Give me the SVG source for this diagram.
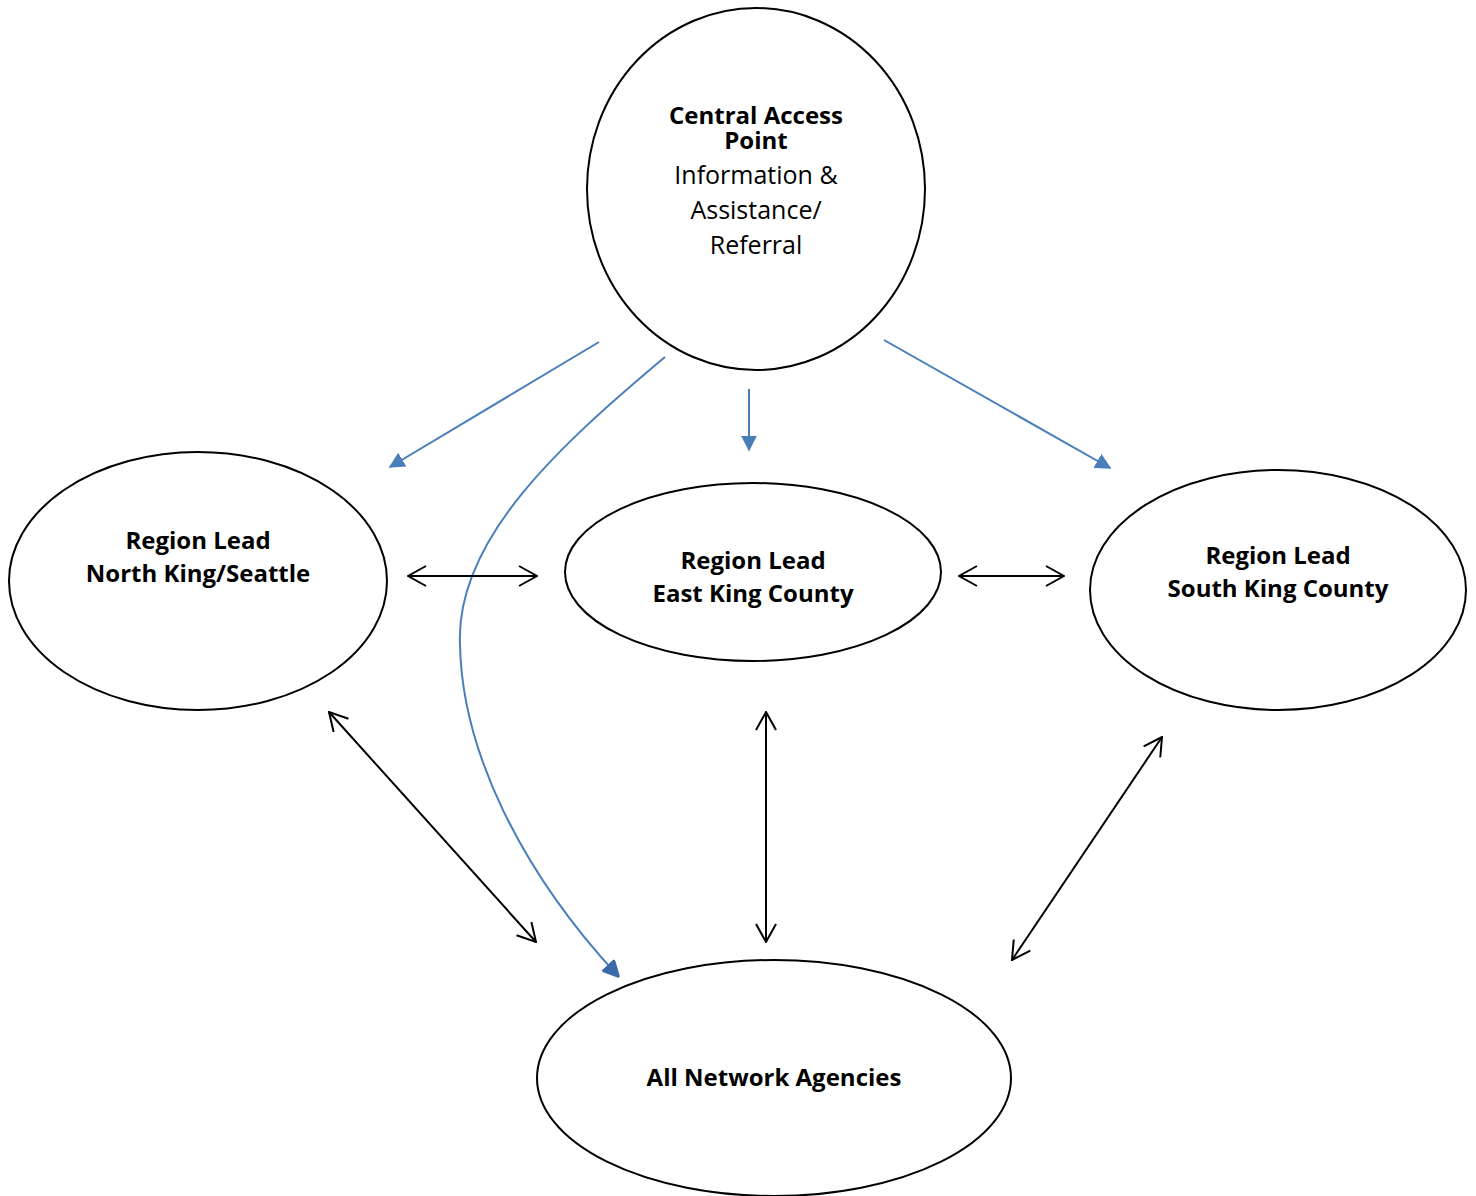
<svg xmlns="http://www.w3.org/2000/svg" width="1476" height="1196" viewBox="0 0 1476 1196">
<style>
.node{fill:#fff;stroke:#000;stroke-width:2}
text{font-family:"Open Sans","Noto Sans",sans-serif;fill:#000;text-anchor:middle}
.b{font-weight:bold;font-size:24px}
.r{font-size:25px}
.blue{fill:none;stroke:#4a7ebb;stroke-width:2}
.blk{fill:none;stroke:#000;stroke-width:2}
</style>
<defs>
<marker id="tri" viewBox="0 0 10 10" refX="9" refY="5" markerWidth="8" markerHeight="8" orient="auto" markerUnits="strokeWidth">
<path d="M0,0 L10,5 L0,10 Z" fill="#4a7ebb"/>
</marker>
<marker id="tri2" viewBox="0 0 10 10" refX="9" refY="5" markerWidth="8.5" markerHeight="8.5" orient="auto" markerUnits="strokeWidth">
<path d="M1,1 L9,5 L1,9 Z" fill="#3b6aa8" stroke="#3b6aa8" stroke-width="2" stroke-linejoin="round"/>
</marker>
<marker id="open" viewBox="0 0 20 22" refX="19" refY="11" markerWidth="20" markerHeight="22" orient="auto-start-reverse" markerUnits="userSpaceOnUse">
<path d="M1,1 L19,11 L1,21" fill="none" stroke="#000" stroke-width="2"/>
</marker>
</defs>
<g id="connectors">
<line class="blue" x1="599" y1="342" x2="390" y2="467" marker-end="url(#tri)"/>
<line class="blue" x1="884" y1="340" x2="1110" y2="468" marker-end="url(#tri)"/>
<line class="blue" x1="749" y1="389" x2="749" y2="450" marker-end="url(#tri)"/>
<path class="blue" d="M665,357 C560,445 455,540 460,645 C462,750 520,870 618,976" marker-end="url(#tri2)"/>
<line class="blk" x1="408" y1="576" x2="537" y2="576" marker-start="url(#open)" marker-end="url(#open)"/>
<line class="blk" x1="959" y1="576" x2="1064" y2="576" marker-start="url(#open)" marker-end="url(#open)"/>
<line class="blk" x1="329" y1="712" x2="536" y2="942" marker-start="url(#open)" marker-end="url(#open)"/>
<line class="blk" x1="766" y1="712" x2="766" y2="942" marker-start="url(#open)" marker-end="url(#open)"/>
<line class="blk" x1="1162" y1="737" x2="1012" y2="960" marker-start="url(#open)" marker-end="url(#open)"/>
</g>
<g id="central">
<ellipse class="node" cx="756" cy="189" rx="169" ry="181"/>
<text class="b"><tspan x="756" y="124">Central Access</tspan><tspan x="756" y="149">Point</tspan></text>
<text class="r" x="756" y="184">Information &amp;</text>
<text class="r" x="756" y="219">Assistance/</text>
<text class="r" x="756" y="254">Referral</text>
</g>
<g id="north">
<ellipse class="node" cx="198" cy="581" rx="189" ry="129"/>
<text class="b" x="198" y="549">Region Lead</text>
<text class="b" x="198" y="582">North King/Seattle</text>
</g>
<g id="east">
<ellipse class="node" cx="753" cy="572" rx="188" ry="89"/>
<text class="b" x="753" y="569">Region Lead</text>
<text class="b" x="753" y="602">East King County</text>
</g>
<g id="south">
<ellipse class="node" cx="1278" cy="590" rx="188" ry="120"/>
<text class="b" x="1278" y="564">Region Lead</text>
<text class="b" x="1278" y="597">South King County</text>
</g>
<g id="all">
<ellipse class="node" cx="774" cy="1078" rx="237" ry="118"/>
<text class="b" x="774" y="1086">All Network Agencies</text>
</g>
</svg>
